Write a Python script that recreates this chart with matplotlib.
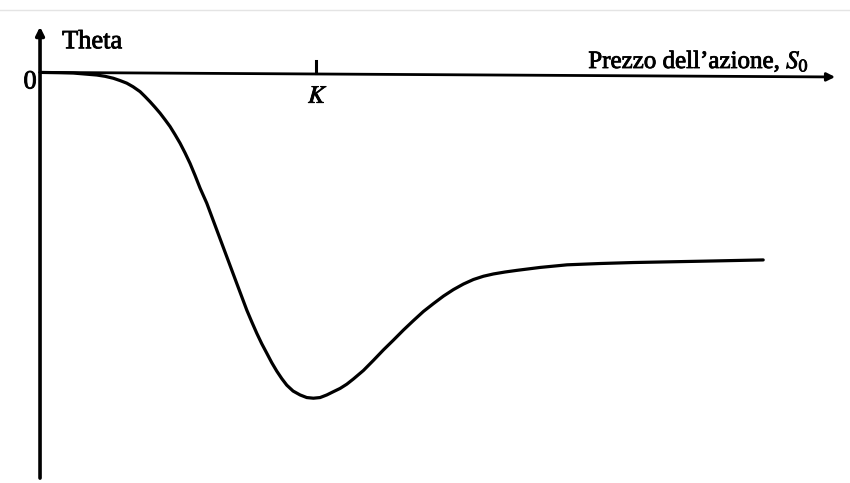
import matplotlib.pyplot as plt
import matplotlib.patheffects as pe

plt.rcParams['mathtext.fontset'] = 'stix'

# stock price (strike K = 50) and theta, scaled so the trough is -1
price = [0, 3.62, 6.03, 8.15, 10.27, 11.78, 13.28, 14.49, 15.71, 16.85,
         18.12, 19.02, 19.93, 20.83, 21.74, 22.64, 23.55, 24.46, 25.36,
         26.27, 27.17, 28.08, 28.99, 30.20, 32.01, 33.82, 35.63, 37.45,
         38.35, 39.26, 40.16, 41.07, 41.97, 42.88, 43.79, 44.69, 45.83,
         47.10, 48.31, 49.51, 50.72, 51.94, 53.13, 54.35, 55.56, 56.76,
         58.57, 60.38, 62.19, 64.00, 65.82, 67.63, 69.44, 71.25, 73.06,
         74.87, 76.68, 78.50, 80.31, 82.12, 84.24, 86.36, 90.58, 95.47,
         101.45, 107.43, 119.57, 130.98]
theta = [0, -0.001, -0.002, -0.005, -0.008, -0.012, -0.018, -0.025, -0.033,
         -0.044, -0.059, -0.074, -0.090, -0.107, -0.125, -0.145, -0.166,
         -0.191, -0.217, -0.247, -0.279, -0.316, -0.355, -0.401, -0.483,
         -0.565, -0.647, -0.729, -0.765, -0.800, -0.832, -0.861, -0.890,
         -0.916, -0.939, -0.959, -0.977, -0.989, -0.997, -0.999, -0.997,
         -0.989, -0.979, -0.969, -0.956, -0.940, -0.914, -0.883, -0.851,
         -0.821, -0.790, -0.761, -0.733, -0.709, -0.686, -0.666, -0.649,
         -0.635, -0.625, -0.618, -0.612, -0.607, -0.598, -0.590, -0.586,
         -0.583, -0.579, -0.575]
strike = 50

ink = [pe.withStroke(linewidth=0.6, foreground='black')]

fig = plt.figure(figsize=(8.5, 4.83), dpi=100)
ax = fig.add_axes([0, 0, 1, 1])
ax.set_xlim(-7.25, 146.7)
ax.set_ylim(-1.259, 0.222)
ax.axis('off')

# faint border line at the top
ax.plot([-7.25, 146.7], [0.19, 0.19], color='#e4e4e4', lw=1)

# axes with arrow heads
ax.annotate('', xy=(0, 0.14), xytext=(0, -1.244),
            arrowprops=dict(arrowstyle='-|>', color='black', lw=2.6,
                            mutation_scale=12, shrinkA=0, shrinkB=0))
ax.annotate('', xy=(144, -0.014), xytext=(0, 0),
            arrowprops=dict(arrowstyle='-|>', color='black', lw=2.0,
                            mutation_scale=12, shrinkA=0, shrinkB=0))

# strike tick
ax.plot([strike, strike], [-0.003, 0.035], color='black', lw=2.2)

ax.plot(price, theta, color='black', lw=2.3, solid_capstyle='round',
        solid_joinstyle='round')

ax.text(4.0, 0.074, 'Theta', family='Liberation Serif', fontsize=19,
        va='baseline', ha='left', path_effects=ink)
ax.text(-1.81, -0.031, '0', family='Liberation Serif', fontsize=19,
        va='center', ha='center', path_effects=ink)
ax.text(50.36, -0.072, '$K$', fontsize=18, va='center', ha='center',
        path_effects=ink)
ax.text(99.3, 0.013, "Prezzo dell\u2019azione, $S_0$",
        family='Liberation Serif', fontsize=18, va='baseline', ha='left',
        path_effects=ink)

fig.savefig('out.png', dpi=100)
